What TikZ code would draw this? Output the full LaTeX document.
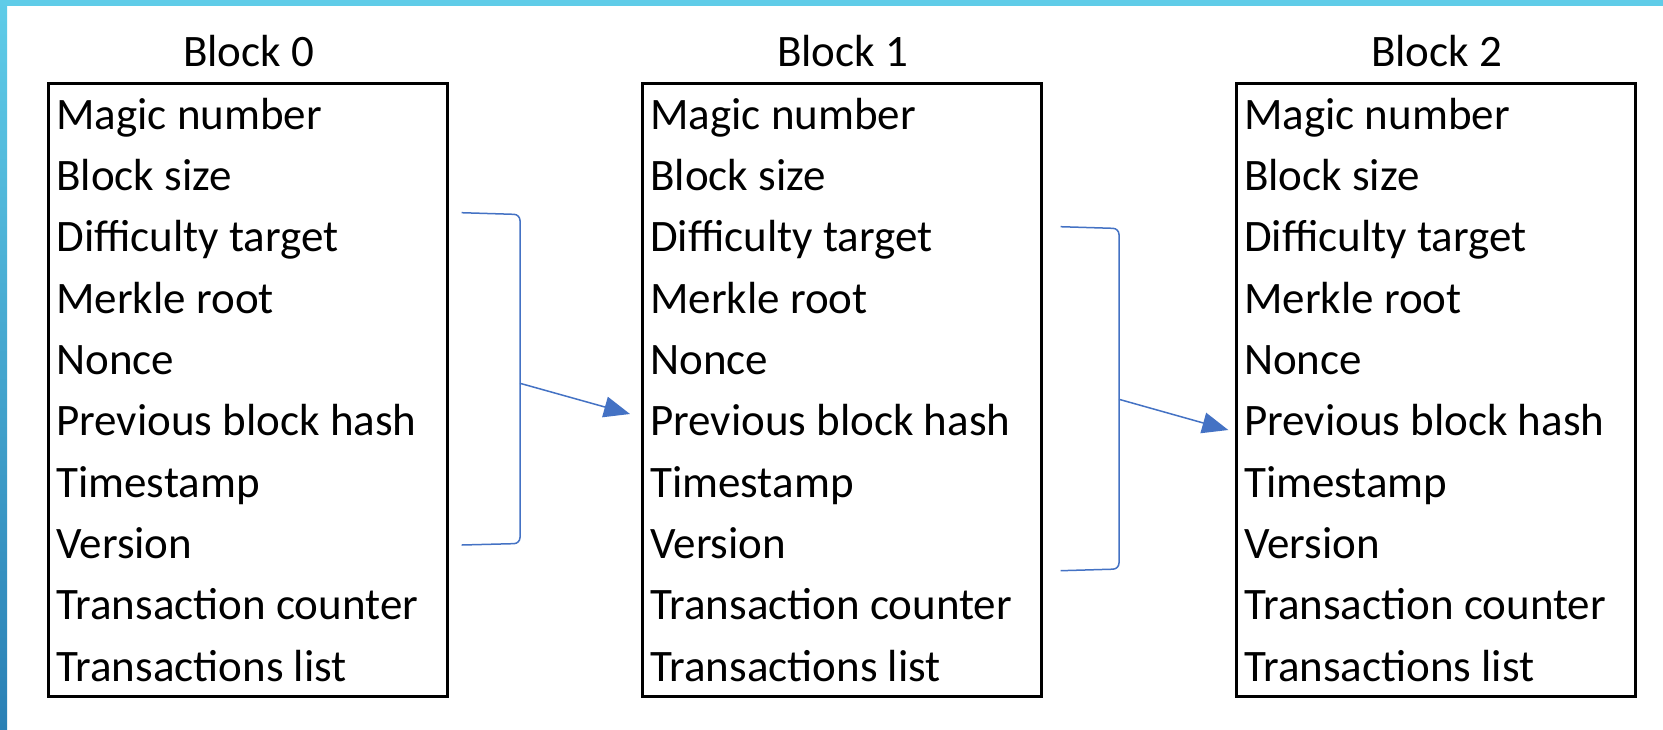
\documentclass[tikz,border=0pt]{standalone}
\usepackage{fontspec}
\setmainfont{Carlito}
\usetikzlibrary{arrows.meta}
\definecolor{brk}{HTML}{4472C4}
\definecolor{topc}{HTML}{5FCCE8}
\definecolor{botc}{HTML}{2A80B5}
\tikzset{
  blockbox/.style={draw=black, line width=3pt, minimum width=399pt, minimum height=613pt, inner sep=0pt, anchor=north west},
  title/.style={font=\fontsize{45}{52}\selectfont, anchor=base, inner sep=0pt},
  field/.style={font=\fontsize{45}{52}\selectfont, anchor=base west, inner sep=0pt},
  bracketline/.style={draw=brk, line width=1.5pt, rounded corners=6pt},
  link/.style={draw=brk, line width=1.5pt, -{Triangle[length=26pt,width=21pt]}}
}
\begin{document}
\begin{tikzpicture}[x=1pt,y=-1pt]
\useasboundingbox (0,0) rectangle (1663,729);
\fill[white] (0,0) rectangle (1663,729);
\fill[topc] (0,0) rectangle (1663,6);
\shade[top color=topc, bottom color=botc] (0,0) rectangle (7,729);
\foreach \b/\x in {0/46.7,1/640.6,2/1234.5}{
  \node[blockbox] (box\b) at (\x,81.7) {};
  \node[title] (t\b) at (\x+202,66) {Block \b};
  \foreach \f [count=\i from 0] in {Magic number,Block size,Difficulty target,Merkle root,Nonce,Previous block hash,Timestamp,Version,Transaction counter,Transactions list}{
    \node[field] (f\b-\i) at (\x+9.5,129.3+61.3*\i) {\f};
  }
}
% bracket 1
\coordinate (a1top) at (461.7,212.7);
\coordinate (a1bot) at (461.7,545);
\coordinate (a1mid) at (520,383.3);
\coordinate (a1tip) at (630,414);
\draw[bracketline] (a1top) -- (520,214.5) -- (520,543.5) -- (a1bot);
\draw[link] (a1mid) -- (a1tip);
% bracket 2
\coordinate (a2top) at (1060.7,226.7);
\coordinate (a2bot) at (1060.7,570.7);
\coordinate (a2mid) at (1119,399.3);
\coordinate (a2tip) at (1228.3,430);
\draw[bracketline] (a2top) -- (1119,228.5) -- (1119,569) -- (a2bot);
\draw[link] (a2mid) -- (a2tip);
\end{tikzpicture}
\end{document}
